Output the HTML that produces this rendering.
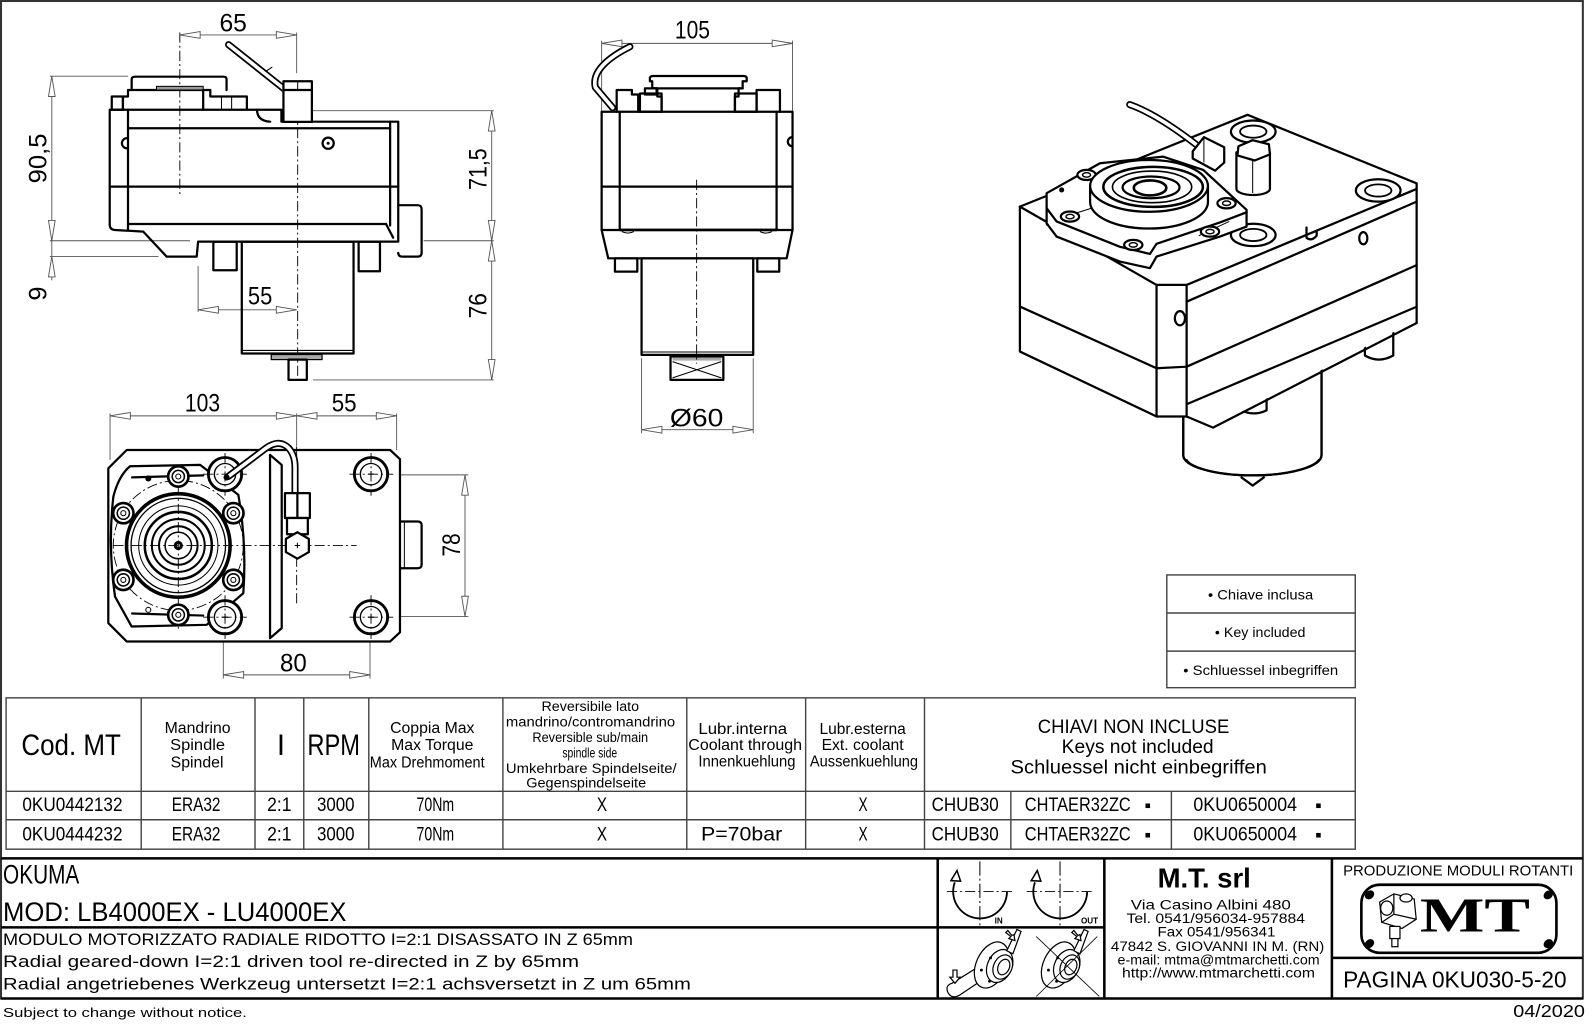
<!DOCTYPE html>
<html><head><meta charset="utf-8">
<style>
html,body{margin:0;padding:0;background:#fff;}
svg{display:block;}
text{font-family:"Liberation Sans",sans-serif;fill:#000;}
.t{stroke:#000;stroke-width:2.2;fill:none;stroke-linejoin:round;stroke-linecap:round}
.tf{stroke:#000;stroke-width:2.2;fill:#fff;stroke-linejoin:round}
.n{stroke:#000;stroke-width:1;fill:none}
.d{stroke:#555;stroke-width:0.9;fill:none}
.a{stroke:#555;stroke-width:0.9;fill:#fff}
.c{stroke:#000;stroke-width:0.9;fill:none;stroke-dasharray:10 3 2 3}
.g{stroke:#444;stroke-width:1.4;fill:none}
.b{stroke:#000;stroke-width:2.6;fill:none}
.tb1{stroke:#000;stroke-width:7;fill:none;stroke-linecap:round;stroke-linejoin:round}
.tb2{stroke:#fff;stroke-width:3.6;fill:none;stroke-linecap:round;stroke-linejoin:round}
</style></head><body>
<svg width="1593" height="1030" viewBox="0 0 1568 1014" preserveAspectRatio="none" xmlns="http://www.w3.org/2000/svg">
<rect x="0" y="0" width="1568" height="1014" fill="#fff"/>
<!-- frame -->
<rect x="1" y="1" width="1557" height="982" fill="none" stroke="#333" stroke-width="2"/>

<!-- ============ TOP-LEFT SIDE VIEW ============ -->
<g>
<line class="d" x1="177" y1="34.4" x2="292" y2="34.4"/>
<polygon class="a" points="177,34.4 197,31.1 197,37.7"/>
<polygon class="a" points="292,34.4 272,31.1 272,37.7"/>
<line class="d" x1="292" y1="32" x2="292" y2="72"/>
<text x="216" y="31" font-size="25" textLength="27" lengthAdjust="spacingAndGlyphs">65</text>
<line class="c" x1="177" y1="32" x2="177" y2="192"/>
<line class="c" x1="293" y1="108" x2="293" y2="376"/>

<line class="d" x1="51" y1="75" x2="51" y2="276"/>
<line class="d" x1="49" y1="75" x2="126" y2="75"/>
<line class="d" x1="49" y1="237" x2="187" y2="237"/>
<line class="d" x1="49" y1="252.6" x2="156" y2="252.6"/>
<polygon class="a" points="51,75 47.7,95 54.3,95"/>
<polygon class="a" points="51,237 47.7,217 54.3,217"/>
<polygon class="a" points="51,252.6 47.7,272.6 54.3,272.6"/>
<text transform="translate(46,156) rotate(-90)" x="0" y="0" font-size="25" text-anchor="middle" textLength="49" lengthAdjust="spacingAndGlyphs">90,5</text>
<text transform="translate(46,289) rotate(-90)" x="0" y="0" font-size="25" text-anchor="middle">9</text>

<line class="d" x1="484" y1="109" x2="484" y2="374"/>
<line class="d" x1="282" y1="109" x2="486" y2="109"/>
<line class="d" x1="417" y1="237" x2="486" y2="237"/>
<line class="d" x1="308" y1="374" x2="486" y2="374"/>
<polygon class="a" points="484,109 480.7,129 487.3,129"/>
<polygon class="a" points="484,237 480.7,217 487.3,217"/>
<polygon class="a" points="484,237 480.7,257 487.3,257"/>
<polygon class="a" points="484,374 480.7,354 487.3,354"/>
<text transform="translate(479,166.5) rotate(-90)" x="0" y="0" font-size="25" text-anchor="middle" textLength="41" lengthAdjust="spacingAndGlyphs">71,5</text>
<text transform="translate(479,301) rotate(-90)" x="0" y="0" font-size="25" text-anchor="middle" textLength="25" lengthAdjust="spacingAndGlyphs">76</text>

<line class="d" x1="195" y1="305" x2="292" y2="305"/>
<line class="d" x1="195" y1="262" x2="195" y2="307"/>
<polygon class="a" points="195,305 215,301.7 215,308.3"/>
<polygon class="a" points="292,305 272,301.7 272,308.3"/>
<text x="244" y="300" font-size="25" textLength="24" lengthAdjust="spacingAndGlyphs">55</text>

<path class="t" d="M108,108 L277,108 L277,119.8 L392,119.8 L392,237.9 L195,237.9 L193.6,252.6 L164,252.6 L141,228 L113,226.4 Q108,226 108,221 Z"/>
<line class="t" x1="126" y1="108" x2="126" y2="226"/>
<line class="t" x1="126" y1="126.3" x2="384" y2="126.3"/>
<line class="t" x1="108" y1="183.7" x2="392" y2="183.7"/>
<line class="t" x1="126" y1="220.5" x2="380" y2="220.5"/>
<path class="t" d="M380,220.5 L387,234"/>
<line class="t" x1="384" y1="119.8" x2="384" y2="222"/>
<path class="t" d="M253,108 Q253,119 266,119.8"/>
<rect class="t" x="110" y="95" width="11" height="13"/>
<path class="t" d="M121,108 L121,95 L126,95 L126,88.6 L207,88.6 L207,95 L243,95 L243,108"/>
<path class="t" d="M129.6,88.6 L129.6,78 Q129.6,75.5 133,75.5 L220,75.5 Q223,75.5 223,78 L223,88.6"/>
<rect x="154" y="85" width="46" height="3.6" fill="#999" stroke="#000" stroke-width="1"/>
<line class="t" x1="200" y1="88.6" x2="200" y2="108"/>
<line class="n" x1="218" y1="95" x2="218" y2="108"/>
<line class="n" x1="228" y1="95" x2="228" y2="108"/>
<path class="tb1" d="M225,44 L279,87"/>
<path class="tb2" d="M225,44 L279,87"/>
<line class="n" x1="262" y1="70" x2="268" y2="66"/>
<rect class="tf" x="279" y="80" width="28" height="40"/>
<line class="t" x1="279" y1="88.6" x2="307" y2="88.6"/>
<line class="n" x1="293" y1="80" x2="293" y2="88.6"/>
<path class="t" d="M125,136 A5,5 0 1 0 125,146"/>
<circle class="t" cx="323" cy="141" r="5.5" stroke-width="3"/>
<circle cx="323" cy="141" r="1.5" fill="#000"/>
<path class="t" d="M392,202 L411,202 Q415,202 415,206 L415,249 Q415,252.6 411,252.6 L396,252.6 Q392,252.6 392,249"/>
<rect class="t" x="210" y="238" width="23" height="28"/>
<rect class="t" x="353" y="238" width="21" height="29"/>
<rect class="t" x="238" y="238" width="110" height="110"/>
<line class="n" x1="238" y1="345" x2="348" y2="345"/>
<rect x="267" y="349" width="50" height="5" fill="#aaa" stroke="#000" stroke-width="1.2"/>
<rect class="t" x="284" y="354" width="18" height="20"/>
</g>

<!-- ============ CENTER VIEW ============ -->
<g>
<line class="d" x1="592.2" y1="42.7" x2="780.1" y2="42.7"/>
<polygon class="a" points="592.2,42.7 612.2,39.4 612.2,46"/>
<polygon class="a" points="780.1,42.7 760.1,39.4 760.1,46"/>
<line class="d" x1="592.2" y1="40" x2="592.2" y2="110"/>
<line class="d" x1="780.1" y1="40" x2="780.1" y2="110"/>
<text x="664.3" y="37.7" font-size="25" textLength="34.5" lengthAdjust="spacingAndGlyphs">105</text>

<rect class="t" x="592.2" y="110" width="187.9" height="116.4"/>
<line class="t" x1="610" y1="110" x2="610" y2="226.4"/>
<line class="t" x1="764.4" y1="110" x2="764.4" y2="226.4"/>
<line class="t" x1="592.2" y1="183.7" x2="780.1" y2="183.7"/>
<path class="t" d="M592.2,226.4 L598.7,254.3 L774.3,254.3 L780.1,226.4"/>
<line class="b" x1="610" y1="226.4" x2="764.4" y2="226.4"/>
<path class="n" d="M612,228 Q618,231 624,228 M748,228 Q754,231 760,228"/>
<path class="t" d="M607,110 L607,88.6 L622,88.6 L622,93 L628.2,93 L628.2,110"/>
<rect class="t" x="629.9" y="92" width="21.3" height="18"/>
<rect class="t" x="634.8" y="87" width="11.5" height="6"/>
<path class="t" d="M651.2,110 L651.2,95 L647,95 L647,87 L642,87 L642,80 L639.7,80 L639.7,77 Q639.7,74.8 643,74.8 L732,74.8 Q735,74.8 735,77 L735,80 L731,80 L731,87 L727,87 L727,95 L723.4,95 L723.4,110"/>
<line class="t" x1="642" y1="87" x2="731" y2="87"/>
<rect class="t" x="723.4" y="92" width="21.3" height="18"/>
<path class="t" d="M744.7,110 L744.7,88.6 L767.7,88.6 L767.7,110"/>
<path class="tb1" d="M620,46 C600,56 582,70 586,86 L603,106"/>
<path class="tb2" d="M620,46 C600,56 582,70 586,86 L603,106"/>
<path class="t" d="M780,135 A4.5,4.5 0 1 0 780,144" stroke-width="2.6"/>
<rect class="t" x="605.3" y="254.3" width="22" height="13.1"/>
<rect class="t" x="745.4" y="254.3" width="21.6" height="13.1"/>
<rect class="t" x="631.5" y="254.3" width="109.9" height="95.1"/>
<line class="n" x1="631.5" y1="346.5" x2="741.4" y2="346.5"/>
<rect class="t" x="660" y="351" width="52" height="23"/>
<rect x="662" y="352" width="48" height="3" fill="#aaa"/>
<path class="n" d="M662,356 L710,372 M710,356 L662,372"/>
<line class="c" x1="685.7" y1="177" x2="685.7" y2="358"/>
<line class="d" x1="631.5" y1="423" x2="741.4" y2="423"/>
<line class="d" x1="631.5" y1="352.7" x2="631.5" y2="426.5"/>
<line class="d" x1="741.4" y1="352.7" x2="741.4" y2="426.5"/>
<polygon class="a" points="631.5,423 651.5,419.7 651.5,426.3"/>
<polygon class="a" points="741.4,423 721.4,419.7 721.4,426.3"/>
<text x="659.4" y="420" font-size="25" textLength="52.6" lengthAdjust="spacingAndGlyphs">Ø60</text>
</g>

<!-- ============ BOTTOM-LEFT VIEW ============ -->
<g>
<line class="d" x1="108.3" y1="409.4" x2="390.4" y2="409.4"/>
<polygon class="a" points="108.3,409.4 128.3,406.1 128.3,412.7"/>
<polygon class="a" points="292,409.4 272,406.1 272,412.7"/>
<polygon class="a" points="292,409.4 312,406.1 312,412.7"/>
<polygon class="a" points="390.4,409.4 370.4,406.1 370.4,412.7"/>
<line class="d" x1="108.3" y1="407" x2="108.3" y2="452.7"/>
<line class="d" x1="292" y1="407" x2="292" y2="440"/>
<line class="d" x1="390.4" y1="407" x2="390.4" y2="443"/>
<text x="182" y="405" font-size="25" textLength="34.6" lengthAdjust="spacingAndGlyphs">103</text>
<text x="326.5" y="405" font-size="25" textLength="24.5" lengthAdjust="spacingAndGlyphs">55</text>

<line class="d" x1="457.7" y1="467.5" x2="457.7" y2="607"/>
<line class="d" x1="393.7" y1="467.5" x2="461" y2="467.5"/>
<line class="d" x1="393.7" y1="607" x2="461" y2="607"/>
<polygon class="a" points="457.7,467.5 454.4,487.5 461,487.5"/>
<polygon class="a" points="457.7,607 454.4,587 461,587"/>
<text transform="translate(452.8,536.5) rotate(-90)" x="0" y="0" font-size="25" text-anchor="middle" textLength="23" lengthAdjust="spacingAndGlyphs">78</text>

<line class="d" x1="219.8" y1="664.4" x2="364.2" y2="664.4"/>
<line class="d" x1="219.8" y1="631.5" x2="219.8" y2="668"/>
<line class="d" x1="364.2" y1="631.5" x2="364.2" y2="668"/>
<polygon class="a" points="219.8,664.4 239.8,661.1 239.8,667.7"/>
<polygon class="a" points="364.2,664.4 344.2,661.1 344.2,667.7"/>
<text x="275.6" y="661" font-size="25" textLength="26.3" lengthAdjust="spacingAndGlyphs">80</text>

<path class="t" d="M106.6,461 L124.7,443 L384,443 L393.7,452 L393.7,622.5 L384,631.5 L124.7,631.5 L106.6,613.4 Z"/>
<path class="t" d="M393.7,513.4 L411,513.4 Q415,513.4 415,517 L415,556 Q415,559.4 411,559.4 L393.7,559.4"/>
<line class="n" x1="398" y1="513.4" x2="398" y2="559.4"/>
<path class="t" d="M265.8,447.8 L277.3,457.7 L277.3,618.4 L265.8,628.3 Z"/>
<circle cx="175.5" cy="537" r="64" class="c"/>
<path class="t" d="M128,459 L197,457.7 L203.4,462.6 L234.6,487.2 Q243,535 239.5,584 L203.4,615.1 L129.6,616.8 L113.2,587.3 Q106,537 111.6,488.8 Q117,468 128,459 Z" fill="#fff"/>
<line class="t" x1="130" y1="470" x2="200" y2="468"/>
<line class="t" x1="130" y1="604" x2="200" y2="606"/>
<circle cx="146" cy="471" r="3" fill="#000"/>
<circle cx="146" cy="600.4" r="2.5" class="n"/>
<circle cx="175.5" cy="537" r="51" fill="#fff" stroke="#000" stroke-width="3.5"/>
<circle cx="175.5" cy="537" r="46.5" stroke="#000" stroke-width="1.3" fill="none"/>
<circle cx="175.5" cy="537" r="39" class="n"/>
<circle cx="175.5" cy="537" r="33" stroke="#000" stroke-width="2.5" fill="none"/>
<circle cx="175.5" cy="537" r="26" stroke="#000" stroke-width="2" fill="none"/>
<circle cx="175.5" cy="537" r="19" stroke="#000" stroke-width="2" fill="none"/>
<circle cx="175.5" cy="537" r="13" stroke="#000" stroke-width="1.5" fill="none"/>
<circle cx="175.5" cy="537" r="4.5" fill="#000"/>
<circle cx="175.5" cy="537" r="1.5" fill="#fff"/>
<line class="c" x1="111.6" y1="537" x2="351" y2="537"/>
<line class="c" x1="175.5" y1="460" x2="175.5" y2="620"/>
<line class="c" x1="292" y1="440" x2="292" y2="597"/>
<g fill="#fff" stroke="#000">
<circle cx="175.5" cy="469.1" r="10" stroke-width="2.6"/><circle cx="175.5" cy="469.1" r="6" stroke-width="1.5"/><circle cx="175.5" cy="469.1" r="2.5" stroke-width="1"/>
<circle cx="121.4" cy="505.2" r="10" stroke-width="2.6"/><circle cx="121.4" cy="505.2" r="6" stroke-width="1.5"/><circle cx="121.4" cy="505.2" r="2.5" stroke-width="1"/>
<circle cx="229.7" cy="505.2" r="10" stroke-width="2.6"/><circle cx="229.7" cy="505.2" r="6" stroke-width="1.5"/><circle cx="229.7" cy="505.2" r="2.5" stroke-width="1"/>
<circle cx="121.4" cy="570.9" r="10" stroke-width="2.6"/><circle cx="121.4" cy="570.9" r="6" stroke-width="1.5"/><circle cx="121.4" cy="570.9" r="2.5" stroke-width="1"/>
<circle cx="229.7" cy="570.9" r="10" stroke-width="2.6"/><circle cx="229.7" cy="570.9" r="6" stroke-width="1.5"/><circle cx="229.7" cy="570.9" r="2.5" stroke-width="1"/>
<circle cx="175.5" cy="605.3" r="10" stroke-width="2.6"/><circle cx="175.5" cy="605.3" r="6" stroke-width="1.5"/><circle cx="175.5" cy="605.3" r="2.5" stroke-width="1"/>
</g>
<g fill="#fff" stroke="#000">
<circle cx="221.5" cy="466.8" r="16.4" stroke-width="2.8"/><circle cx="221.5" cy="466.8" r="10.5" stroke-width="1.3"/>
<circle cx="221.5" cy="607.6" r="16.4" stroke-width="2.8"/><circle cx="221.5" cy="607.6" r="10.5" stroke-width="1.3"/>
<circle cx="365.2" cy="466.8" r="16.4" stroke-width="2.8"/><circle cx="365.2" cy="466.8" r="10.5" stroke-width="1.3"/>
<circle cx="365.2" cy="607.6" r="16.4" stroke-width="2.8"/><circle cx="365.2" cy="607.6" r="10.5" stroke-width="1.3"/>
</g>
<path class="n" d="M218.5,607.6 h6 M221.5,604.6 v6 M362.2,466.8 h6 M365.2,463.8 v6 M362.2,607.6 h6 M365.2,604.6 v6"/>
<path class="c" d="M200,466.8 h43 M221.5,446 v42 M200,607.6 h43 M221.5,586 v43 M344,466.8 h43 M365.2,446 v42 M344,607.6 h43 M365.2,586 v43"/>
<path class="tb1" d="M224.8,469 L262,441 Q275,432 284,441 Q290.4,448 290.4,460 L290.4,485.5"/>
<path class="tb2" d="M224.8,469 L262,441 Q275,432 284,441 Q290.4,448 290.4,460 L290.4,485.5"/>
<circle cx="223" cy="470" r="3" fill="#000"/>
<rect class="tf" x="280.5" y="485.5" width="24.5" height="24.5"/>
<line class="t" x1="292.7" y1="485.5" x2="292.7" y2="510"/>
<rect class="tf" x="282.5" y="510" width="20.5" height="16"/>
<polygon class="tf" points="292.7,524 304,530.5 304,543.5 292.7,550 281.4,543.5 281.4,530.5"/>
<path class="n" d="M290,537 h5.4 M292.7,534.3 v5.4"/>
</g>

<!-- ============ 3D VIEW ============ -->
<g>
<path class="tf" d="M1164.7,400 L1164.7,448 A68,20 0 0 0 1300.8,448 L1300.8,360 Z" stroke="none"/>
<path class="t" d="M1164.7,410 L1164.7,448 A68,20 0 0 0 1300.8,448 L1300.8,366"/>
<path class="n" d="M1168,452 A66,20 0 0 0 1298,452"/>
<path class="t" d="M1222,470 L1233,478 L1244,470"/>
<path class="t" d="M1222,396 L1222,404 Q1234,410 1246.7,404 L1246.7,386"/>
<path class="t" d="M1343.5,332 L1343.5,350 Q1357,358 1371.4,350 L1371.4,320"/>
<polygon fill="#fff" points="1003.9,203.4 1228,113 1394.4,180.5 1394.4,315 1194,420 1168,410 1138.4,410 1003.9,346.1"/>
<path class="t" d="M1003.9,203.4 L1228,113 L1394.4,180.5 L1394.4,318"/>
<path class="t" d="M1003.9,203.4 L1003.9,346.1 L1138.4,410 L1168,410 L1194,421 L1394.4,318"/>
<path class="t" d="M1003.9,203.4 L1138.4,280.5 L1168,280.5 L1394.4,186"/>
<line class="t" x1="1138.4" y1="280.5" x2="1138.4" y2="410"/>
<line class="t" x1="1168" y1="280.5" x2="1168" y2="410"/>
<line class="t" x1="1168" y1="297" x2="1394.4" y2="198.5"/>
<path class="t" d="M1003.9,301.8 L1138.4,362.5 L1168,361 L1394.4,261"/>
<line class="t" x1="1168" y1="398" x2="1394.4" y2="302"/>
<line class="n" x1="1030" y1="190" x2="1030" y2="222"/>
<ellipse class="t" cx="1161.4" cy="313.3" rx="5" ry="7" stroke-width="2.8"/>
<ellipse class="t" cx="1341.9" cy="234.5" rx="4" ry="6" stroke-width="2.8"/>
<path class="t" d="M1286,224 L1286,234 Q1291,238 1296,232 L1296,228"/>
<g fill="#fff" stroke="#000">
<ellipse cx="1233.6" cy="129.6" rx="22" ry="11" stroke-width="2.2"/><ellipse cx="1233.6" cy="129.6" rx="13" ry="6" stroke-width="1.8"/>
<ellipse cx="1356.6" cy="187.5" rx="22" ry="11" stroke-width="2.2"/><ellipse cx="1356.6" cy="187.5" rx="13" ry="6" stroke-width="1.8"/>
<ellipse cx="1233.6" cy="231.3" rx="22" ry="11" stroke-width="2.2"/><ellipse cx="1233.6" cy="231.3" rx="13" ry="6" stroke-width="1.8"/>
</g>
<polygon class="tf" points="1030.2,190.2 1082.7,160.7 1145,154.2 1184.4,167.3 1227,206.6 1227,223 1200.8,232.9 1138.4,252.6 1131.9,264 1102.4,257.5 1040,232.9 1030.2,219.8"/>
<path class="t" d="M1030.2,205 L1040,218 L1102.4,243 L1131.9,250 L1138.4,240 L1200.8,219 L1227,209"/>
<path class="n" d="M1046,214 L1090,200 M1180,232 L1210,218"/>
<g fill="#fff" stroke="#000">
<ellipse cx="1069.5" cy="172.2" rx="9" ry="5" stroke-width="2.2"/><ellipse cx="1069.5" cy="172.2" rx="4" ry="2.2" stroke-width="1.4"/>
<ellipse cx="1053.2" cy="213.2" rx="9" ry="5" stroke-width="2.2"/><ellipse cx="1053.2" cy="213.2" rx="4" ry="2.2" stroke-width="1.4"/>
<ellipse cx="1207.3" cy="200.1" rx="9" ry="5" stroke-width="2.2"/><ellipse cx="1207.3" cy="200.1" rx="4" ry="2.2" stroke-width="1.4"/>
<ellipse cx="1191" cy="228" rx="9" ry="5" stroke-width="2.2"/><ellipse cx="1191" cy="228" rx="4" ry="2.2" stroke-width="1.4"/>
<ellipse cx="1115.5" cy="241.1" rx="9" ry="5" stroke-width="2.2"/><ellipse cx="1115.5" cy="241.1" rx="4" ry="2.2" stroke-width="1.4"/>
</g>
<circle cx="1045" cy="187" r="2.5" fill="#000"/>
<path class="tf" d="M1073,183 L1073,199 A58,26 0 0 0 1189,199 L1189,183"/>
<ellipse class="tf" cx="1131" cy="183" rx="58" ry="25.5"/>
<ellipse cx="1135" cy="184" rx="49" ry="19.7" fill="none" stroke="#000" stroke-width="2.5"/>
<ellipse cx="1134" cy="184" rx="39" ry="15.6" fill="none" stroke="#000" stroke-width="1.6"/>
<ellipse cx="1133" cy="184.5" rx="28" ry="10.7" fill="none" stroke="#000" stroke-width="2.2"/>
<ellipse cx="1132" cy="185" rx="16" ry="7.4" fill="none" stroke="#000" stroke-width="2.6"/>
<path class="tb1" d="M1112,103 Q1138,112 1177,142"/>
<path class="tb2" d="M1112,103 Q1138,112 1177,142"/>
<polygon class="tf" points="1174,149 1185,135 1205,145 1205,160 1196,168 1174,156"/>
<line class="n" x1="1185" y1="135" x2="1185" y2="160"/>
<path class="tf" d="M1217,150 L1217,186 A16.5,6 0 0 0 1250,186 L1250,150 Z"/>
<polygon class="tf" points="1219,144 1233,138 1249,142 1250,152 1235,158 1218,153"/>
<line class="n" x1="1233" y1="158" x2="1233" y2="190"/>
</g>

<!-- ============ KEYS BOX ============ -->
<g class="g" stroke="#222" stroke-width="1.3">
<rect x="1148.5" y="566" width="185.5" height="111"/>
<line x1="1148.5" y1="603.5" x2="1334" y2="603.5"/>
<line x1="1148.5" y1="641" x2="1334" y2="641"/>
</g>
<text x="1189" y="586.3" font-size="14" dominant-baseline="central" textLength="103.6" lengthAdjust="spacingAndGlyphs">• Chiave inclusa</text>
<text x="1195.8" y="623.4" font-size="14" dominant-baseline="central" textLength="89.2" lengthAdjust="spacingAndGlyphs">• Key included</text>
<text x="1164.7" y="660.5" font-size="14" dominant-baseline="central" textLength="152.5" lengthAdjust="spacingAndGlyphs">• Schluessel inbegriffen</text>

<!-- ============ TABLE ============ -->
<g class="g">
<rect x="6" y="687" width="1328" height="149"/>
<line x1="6" y1="779" x2="1334" y2="779"/>
<line x1="6" y1="807" x2="1334" y2="807"/>
<line x1="139" y1="687" x2="139" y2="836"/>
<line x1="251" y1="687" x2="251" y2="836"/>
<line x1="299" y1="687" x2="299" y2="836"/>
<line x1="363" y1="687" x2="363" y2="836"/>
<line x1="495" y1="687" x2="495" y2="836"/>
<line x1="676" y1="687" x2="676" y2="836"/>
<line x1="793" y1="687" x2="793" y2="836"/>
<line x1="910" y1="687" x2="910" y2="836"/>
<line x1="995" y1="779" x2="995" y2="836"/>
<line x1="1153" y1="779" x2="1153" y2="836"/>
</g>
<g>
<text x="21" y="734" font-size="29" textLength="98" lengthAdjust="spacingAndGlyphs" dominant-baseline="central">Cod. MT</text>
<text x="162" y="717" font-size="15.5" textLength="65" lengthAdjust="spacingAndGlyphs" dominant-baseline="central">Mandrino</text>
<text x="167.5" y="734" font-size="15.5" textLength="54" lengthAdjust="spacingAndGlyphs" dominant-baseline="central">Spindle</text>
<text x="168" y="751" font-size="15.5" textLength="52" lengthAdjust="spacingAndGlyphs" dominant-baseline="central">Spindel</text>
<text x="272.5" y="734" font-size="29" dominant-baseline="central">I</text>
<text x="302.6" y="734" font-size="29" textLength="51.8" lengthAdjust="spacingAndGlyphs" dominant-baseline="central">RPM</text>
<text x="384" y="717" font-size="15.5" textLength="83" lengthAdjust="spacingAndGlyphs" dominant-baseline="central">Coppia Max</text>
<text x="385" y="734" font-size="15.5" textLength="81" lengthAdjust="spacingAndGlyphs" dominant-baseline="central">Max Torque</text>
<text x="364" y="751" font-size="15.5" textLength="113" lengthAdjust="spacingAndGlyphs" dominant-baseline="central">Max Drehmoment</text>
<text x="533" y="695.5" font-size="13.5" textLength="96" lengthAdjust="spacingAndGlyphs" dominant-baseline="central">Reversibile lato</text>
<text x="498" y="710.8" font-size="13.5" textLength="166.5" lengthAdjust="spacingAndGlyphs" dominant-baseline="central">mandrino/contromandrino</text>
<text x="524" y="726" font-size="13.5" textLength="114" lengthAdjust="spacingAndGlyphs" dominant-baseline="central">Reversible sub/main</text>
<text x="553.5" y="741.5" font-size="13.5" textLength="54" lengthAdjust="spacingAndGlyphs" dominant-baseline="central">spindle side</text>
<text x="498" y="756.5" font-size="13.5" textLength="168" lengthAdjust="spacingAndGlyphs" dominant-baseline="central">Umkehrbare Spindelseite/</text>
<text x="518" y="771" font-size="13.5" textLength="118" lengthAdjust="spacingAndGlyphs" dominant-baseline="central">Gegenspindelseite</text>
<text x="687.4" y="718" font-size="15" textLength="87.3" lengthAdjust="spacingAndGlyphs" dominant-baseline="central">Lubr.interna</text>
<text x="677.5" y="734" font-size="15" textLength="112" lengthAdjust="spacingAndGlyphs" dominant-baseline="central">Coolant through</text>
<text x="687.4" y="750" font-size="15" textLength="95.6" lengthAdjust="spacingAndGlyphs" dominant-baseline="central">Innenkuehlung</text>
<text x="806.6" y="718" font-size="15" textLength="85" lengthAdjust="spacingAndGlyphs" dominant-baseline="central">Lubr.esterna</text>
<text x="808.7" y="734" font-size="15" textLength="80.8" lengthAdjust="spacingAndGlyphs" dominant-baseline="central">Ext. coolant</text>
<text x="797.2" y="750" font-size="15" textLength="106.4" lengthAdjust="spacingAndGlyphs" dominant-baseline="central">Aussenkuehlung</text>
<text x="1021.5" y="716" font-size="19" textLength="188.5" lengthAdjust="spacingAndGlyphs" dominant-baseline="central">CHIAVI NON INCLUSE</text>
<text x="1045" y="736" font-size="19" textLength="149.6" lengthAdjust="spacingAndGlyphs" dominant-baseline="central">Keys not included</text>
<text x="994.7" y="756" font-size="19" textLength="252.3" lengthAdjust="spacingAndGlyphs" dominant-baseline="central">Schluessel nicht einbegriffen</text>
</g>
<g font-size="19">
<text x="22" y="793" textLength="98.6" lengthAdjust="spacingAndGlyphs" dominant-baseline="central">0KU0442132</text>
<text x="169" y="793" textLength="48" lengthAdjust="spacingAndGlyphs" dominant-baseline="central">ERA32</text>
<text x="263" y="793" textLength="24" lengthAdjust="spacingAndGlyphs" dominant-baseline="central">2:1</text>
<text x="312" y="793" textLength="37" lengthAdjust="spacingAndGlyphs" dominant-baseline="central">3000</text>
<text x="410" y="793" textLength="37" lengthAdjust="spacingAndGlyphs" dominant-baseline="central">70Nm</text>
<text x="587.5" y="793" textLength="10" lengthAdjust="spacingAndGlyphs" dominant-baseline="central">X</text>
<text x="845" y="793" textLength="9" lengthAdjust="spacingAndGlyphs" dominant-baseline="central">X</text>
<text x="917" y="793" textLength="66" lengthAdjust="spacingAndGlyphs" dominant-baseline="central">CHUB30</text>
<text x="1008.7" y="793" textLength="104.3" lengthAdjust="spacingAndGlyphs" dominant-baseline="central">CHTAER32ZC</text>
<text x="1174.7" y="793" textLength="102" lengthAdjust="spacingAndGlyphs" dominant-baseline="central">0KU0650004</text>

<text x="22" y="822" textLength="98.6" lengthAdjust="spacingAndGlyphs" dominant-baseline="central">0KU0444232</text>
<text x="169" y="822" textLength="48" lengthAdjust="spacingAndGlyphs" dominant-baseline="central">ERA32</text>
<text x="263" y="822" textLength="24" lengthAdjust="spacingAndGlyphs" dominant-baseline="central">2:1</text>
<text x="312" y="822" textLength="37" lengthAdjust="spacingAndGlyphs" dominant-baseline="central">3000</text>
<text x="410" y="822" textLength="37" lengthAdjust="spacingAndGlyphs" dominant-baseline="central">70Nm</text>
<text x="587.5" y="822" textLength="10" lengthAdjust="spacingAndGlyphs" dominant-baseline="central">X</text>
<text x="690" y="822" textLength="80" lengthAdjust="spacingAndGlyphs" dominant-baseline="central">P=70bar</text>
<text x="845" y="822" textLength="9" lengthAdjust="spacingAndGlyphs" dominant-baseline="central">X</text>
<text x="917" y="822" textLength="66" lengthAdjust="spacingAndGlyphs" dominant-baseline="central">CHUB30</text>
<text x="1008.7" y="822" textLength="104.3" lengthAdjust="spacingAndGlyphs" dominant-baseline="central">CHTAER32ZC</text>
<text x="1174.7" y="822" textLength="102" lengthAdjust="spacingAndGlyphs" dominant-baseline="central">0KU0650004</text>
</g>
<g fill="#000">
<rect x="1127.5" y="791" width="4.5" height="4.5"/>
<rect x="1295.5" y="791" width="4.5" height="4.5"/>
<rect x="1127.5" y="820" width="4.5" height="4.5"/>
<rect x="1295.5" y="820" width="4.5" height="4.5"/>
</g>

<!-- ============ TITLE BLOCK ============ -->
<g stroke="#000" stroke-width="2.5" fill="none">
<line x1="1" y1="845" x2="1558" y2="845"/>
<line x1="1" y1="913" x2="1087" y2="913"/>
<line x1="923" y1="845" x2="923" y2="983"/>
<line x1="1087" y1="845" x2="1087" y2="983"/>
<line x1="1311" y1="845" x2="1311" y2="983"/>
<line x1="1311" y1="943" x2="1558" y2="943"/>
<line x1="1" y1="983" x2="1558" y2="983"/>
</g>
<text x="3" y="861" font-size="26" textLength="75" lengthAdjust="spacingAndGlyphs" dominant-baseline="central">OKUMA</text>
<text x="3" y="898" font-size="26" textLength="338" lengthAdjust="spacingAndGlyphs" dominant-baseline="central">MOD: LB4000EX - LU4000EX</text>
<text x="3" y="925.5" font-size="16" textLength="620" lengthAdjust="spacingAndGlyphs" dominant-baseline="central">MODULO MOTORIZZATO RADIALE RIDOTTO I=2:1 DISASSATO IN Z 65mm</text>
<text x="3" y="947" font-size="16" textLength="567" lengthAdjust="spacingAndGlyphs" dominant-baseline="central">Radial geared-down I=2:1 driven tool re-directed in Z by 65mm</text>
<text x="3" y="969" font-size="16" textLength="677" lengthAdjust="spacingAndGlyphs" dominant-baseline="central">Radial angetriebenes Werkzeug untersetzt I=2:1 achsversetzt in Z um 65mm</text>
<text x="3" y="997" font-size="13" textLength="240" lengthAdjust="spacingAndGlyphs" dominant-baseline="central">Subject to change without notice.</text>
<text x="1489.5" y="995.5" font-size="17" textLength="70.5" lengthAdjust="spacingAndGlyphs" dominant-baseline="central">04/2020</text>

<!-- rotation icons -->
<g>
<line class="n" x1="964.5" y1="848" x2="964.5" y2="912" stroke-dasharray="14 3 2 3"/>
<line class="c" x1="932" y1="877.7" x2="997.5" y2="877.7"/>
<path d="M939.8,868.6 A26.5,26.5 0 1 0 991.2,877.7" fill="none" stroke="#000" stroke-width="1.8"/>
<polygon points="942,857 936,867 945.5,867.5" fill="#fff" stroke="#000" stroke-width="1.5"/>
<text x="979" y="909" font-size="8" font-weight="bold">IN</text>
<line class="n" x1="1043.4" y1="848" x2="1043.4" y2="912" stroke-dasharray="14 3 2 3"/>
<line class="c" x1="1010.6" y1="877.7" x2="1076" y2="877.7"/>
<path d="M1018.7,868.6 A26.5,26.5 0 1 0 1070.1,877.7" fill="none" stroke="#000" stroke-width="1.8"/>
<polygon points="1021,857 1015,867 1024.5,867.5" fill="#fff" stroke="#000" stroke-width="1.5"/>
<text x="1064" y="909" font-size="8" font-weight="bold">OUT</text>
</g>
<!-- wrench icons -->
<g fill="#fff" stroke="#000" stroke-width="1.2">
<path d="M933,977 Q930,970 937,968 L966,950 L974,960 L944,980 Q937,984 933,977 Z"/>
<ellipse cx="976" cy="950" rx="15" ry="24" transform="rotate(25 976 950)"/>
<ellipse cx="984" cy="951" rx="12" ry="17" transform="rotate(25 984 951)"/>
<ellipse cx="987" cy="952" rx="9" ry="12.5" transform="rotate(25 987 952)"/>
<ellipse cx="988" cy="952" rx="5.5" ry="8" transform="rotate(25 988 952)"/>
<path d="M991,936 L1001,915 L1005,917 L997,939 Z"/>
<path d="M938,955 L938,962 L935,962 L940,968 L945,962 L942,962 L942,955 Z"/>
<path d="M990,918 L995,922 L993,924 L999,926 L998,920 L996,921 L992,916 Z"/>
<ellipse cx="1042" cy="950" rx="15" ry="24" transform="rotate(25 1042 950)"/>
<ellipse cx="1050" cy="951" rx="12" ry="17" transform="rotate(25 1050 951)"/>
<ellipse cx="1053" cy="952" rx="9" ry="12.5" transform="rotate(25 1053 952)"/>
<ellipse cx="1054" cy="952" rx="5.5" ry="8" transform="rotate(25 1054 952)"/>
<path d="M1057,936 L1067,915 L1071,917 L1063,939 Z"/>
<path d="M1055,918 L1060,922 L1058,924 L1064,926 L1063,920 L1061,921 L1057,916 Z"/>
<line x1="1020" y1="922" x2="1082" y2="981" stroke-width="0.8"/>
<line x1="1080" y1="922" x2="1020" y2="981" stroke-width="0.8"/>
</g>
<circle cx="975" cy="943" r="1.4" fill="#000"/><circle cx="966" cy="955" r="1.4" fill="#000"/><circle cx="974" cy="966" r="1.4" fill="#000"/>
<circle cx="1041" cy="943" r="1.4" fill="#000"/><circle cx="1032" cy="955" r="1.4" fill="#000"/><circle cx="1040" cy="966" r="1.4" fill="#000"/>

<!-- company -->
<text x="1139.4" y="864.5" font-size="27" font-weight="bold" textLength="91.8" lengthAdjust="spacingAndGlyphs" dominant-baseline="central">M.T. srl</text>
<g font-size="13.5">
<text x="1113" y="890.8" textLength="157.6" lengthAdjust="spacingAndGlyphs" dominant-baseline="central">Via Casino Albini 480</text>
<text x="1108.8" y="904" textLength="175.8" lengthAdjust="spacingAndGlyphs" dominant-baseline="central">Tel. 0541/956034-957884</text>
<text x="1139.4" y="917.7" textLength="116" lengthAdjust="spacingAndGlyphs" dominant-baseline="central">Fax 0541/956341</text>
<text x="1093.5" y="931.8" textLength="210" lengthAdjust="spacingAndGlyphs" dominant-baseline="central">47842 S. GIOVANNI IN M. (RN)</text>
<text x="1100" y="945" textLength="199" lengthAdjust="spacingAndGlyphs" dominant-baseline="central">e-mail: mtma@mtmarchetti.com</text>
<text x="1104.4" y="958" textLength="190" lengthAdjust="spacingAndGlyphs" dominant-baseline="central">http://www.mtmarchetti.com</text>
</g>

<!-- logo -->
<text x="1322" y="858" font-size="14.5" textLength="226.6" lengthAdjust="spacingAndGlyphs" dominant-baseline="central">PRODUZIONE MODULI ROTANTI</text>
<rect x="1340" y="871" width="192" height="67" rx="18" fill="none" stroke="#000" stroke-width="2.6"/>
<g fill="#000">
<ellipse cx="1348" cy="881" rx="5" ry="4" transform="rotate(-40 1348 881)"/>
<ellipse cx="1524" cy="881" rx="5" ry="4" transform="rotate(-40 1524 881)"/>
<ellipse cx="1348" cy="929" rx="5" ry="4" transform="rotate(-40 1348 929)"/>
<ellipse cx="1524" cy="929" rx="5" ry="4" transform="rotate(-40 1524 929)"/>
</g>
<text x="1397.6" y="901.5" font-size="48" font-weight="bold" textLength="108.4" lengthAdjust="spacingAndGlyphs" dominant-baseline="central" style="font-family:'Liberation Serif',serif">MT</text>
<g fill="#fff" stroke="#000" stroke-width="1.2">
<path d="M1358,888 L1372,880 L1392,885 L1394,905 L1380,914 L1360,908 Z"/>
<path d="M1372,880 L1372,900 L1394,905 M1372,900 L1360,908"/>
<ellipse cx="1365" cy="894" rx="6" ry="7"/>
<ellipse cx="1384" cy="884" rx="6" ry="4"/>
<rect x="1368" y="912" width="10" height="12"/>
<rect x="1370" y="924" width="6" height="8"/>
</g>
<text x="1322" y="964.5" font-size="23" textLength="220" lengthAdjust="spacingAndGlyphs" dominant-baseline="central">PAGINA 0KU030-5-20</text>
</svg>
</body></html>
